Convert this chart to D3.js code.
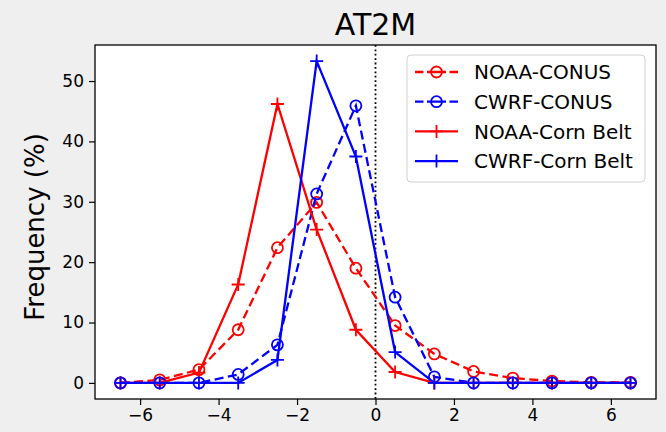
<!DOCTYPE html>
<html>
<head>
<meta charset="utf-8">
<script src="https://cdn.jsdelivr.net/npm/d3@7"></script>
<style>
  body { margin: 0; background: #efefef; }
  svg { display: block; font-family: "DejaVu Sans", sans-serif; }
</style>
</head>
<body>
<svg id="chart" width="666" height="432"></svg>
<script>
// bin centres
var bins = [-6.5, -5.5, -4.5, -3.5, -2.5, -1.5, -0.5, 0.5, 1.5, 2.5, 3.5, 4.5, 5.5, 6.5];

var noaaConus = [0, 0.5, 2.2, 8.8, 22.4, 29.9, 19.0, 9.5, 4.8, 1.9, 0.8, 0.3, 0.1, 0.1];
var cwrfConus = [0, 0, 0, 1.4, 6.3, 31.3, 45.9, 14.2, 1.0, 0, 0, 0, 0, 0];
var noaaCorn  = [0, 0, 1.7, 16.3, 46.2, 25.4, 8.8, 1.8, 0, 0, 0, 0, 0, 0];
var cwrfCorn  = [0, 0, 0, 0, 3.8, 53.3, 37.5, 5.1, 0, 0, 0, 0, 0, 0];

var xTicks = [-6, -4, -2, 0, 2, 4, 6];
var yTicks = [0, 10, 20, 30, 40, 50];

var series = [
  {name: "NOAA-CONUS", values: noaaConus, color: "#ff0000", dashed: true, marker: "circle"},
  {name: "CWRF-CONUS", values: cwrfConus, color: "#0000ff", dashed: true, marker: "circle"},
  {name: "NOAA-Corn Belt", values: noaaCorn, color: "#ff0000", dashed: false, marker: "plus"},
  {name: "CWRF-Corn Belt", values: cwrfCorn, color: "#0000ff", dashed: false, marker: "plus"}
];

var svg = d3.select("#chart"),
    margin = {top: 45, right: 10, bottom: 33, left: 95},
    width = +svg.attr("width") - margin.left - margin.right,
    height = +svg.attr("height") - margin.top - margin.bottom;

var x = d3.scaleLinear().domain([-7.15, 7.15]).range([0, width]);
var y = d3.scaleLinear().domain([-2.67, 55.97]).range([height, 0]);

var g = svg.append("g").attr("transform", "translate(" + margin.left + "," + margin.top + ")");

g.append("rect")
    .attr("width", width).attr("height", height)
    .attr("fill", "#fff");

// axes
var xAxis = g.append("g")
    .attr("transform", "translate(0," + height + ")")
    .call(d3.axisBottom(x).tickValues(xTicks).tickSize(6).tickPadding(4)
      .tickFormat(function(d) { return d < 0 ? "\u2212" + Math.abs(d) : d; }));
var yAxis = g.append("g")
    .call(d3.axisLeft(y).tickValues(yTicks).tickSize(6).tickPadding(5));

[xAxis, yAxis].forEach(function(a) {
  a.select(".domain").remove();
  a.selectAll("line").attr("stroke", "#000").attr("stroke-width", 1.2);
  a.selectAll("text").attr("fill", "#000").style("font-size", "17px")
      .style("font-family", "DejaVu Sans, sans-serif");
});

// zero line
g.append("line")
    .attr("x1", x(0)).attr("x2", x(0))
    .attr("y1", 0).attr("y2", height)
    .attr("stroke", "#000").attr("stroke-width", 1.8)
    .attr("stroke-dasharray", "1.8,2.6");

var line = d3.line()
    .x(function(d, i) { return x(bins[i]); })
    .y(function(d) { return y(d); });

function drawMarker(sel, type, color, r) {
  if (type == "circle") {
    sel.append("circle").attr("r", r)
        .attr("fill", "none").attr("stroke", color).attr("stroke-width", 1.8);
  } else {
    sel.append("path").attr("d", "M" + (-r) + ",0H" + r + "M0," + (-r) + "V" + r)
        .attr("fill", "none").attr("stroke", color).attr("stroke-width", 1.8);
  }
}

var plot = g.append("g");

series.forEach(function(s) {
  var sg = plot.append("g");
  sg.append("path")
      .attr("d", line(s.values))
      .attr("fill", "none")
      .attr("stroke", s.color)
      .attr("stroke-width", 2.3)
      .attr("stroke-dasharray", s.dashed ? "9,4.5" : null);
  s.values.forEach(function(v, i) {
    var m = sg.append("g").attr("transform", "translate(" + x(bins[i]) + "," + y(v) + ")");
    drawMarker(m, s.marker, s.color, s.marker == "circle" ? 5.5 : 6.5);
  });
});

// frame
g.append("rect")
    .attr("width", width).attr("height", height)
    .attr("fill", "none").attr("stroke", "#000").attr("stroke-width", 1.3);

// title and label
svg.append("text")
    .attr("x", margin.left + width / 2).attr("y", 35)
    .attr("text-anchor", "middle")
    .style("font-size", "30px")
    .text("AT2M");

svg.append("text")
    .attr("transform", "translate(44,227) rotate(-90)")
    .attr("text-anchor", "middle")
    .style("font-size", "26px")
    .text("Frequency (%)");

// legend
var legend = svg.append("g").attr("transform", "translate(407,55)");
legend.append("rect")
    .attr("width", 238).attr("height", 127)
    .attr("rx", 4).attr("ry", 4)
    .attr("fill", "#fff").attr("stroke", "#d0d0d0").attr("stroke-width", 1);

series.forEach(function(s, i) {
  var row = legend.append("g").attr("transform", "translate(0," + (17 + i * 29.7) + ")");
  row.append("line")
      .attr("x1", 8).attr("x2", 51)
      .attr("stroke", s.color).attr("stroke-width", 2.3)
      .attr("stroke-dasharray", s.dashed ? "8.5,3.5,19,3.5,8.5" : null);
  var m = row.append("g").attr("transform", "translate(29.5,0)");
  drawMarker(m, s.marker, s.color, s.marker == "circle" ? 5.5 : 6.5);
  row.append("text")
      .attr("x", 67).attr("dy", "0.36em")
      .style("font-size", "20px")
      .text(s.name);
});
</script>
</body>
</html>
